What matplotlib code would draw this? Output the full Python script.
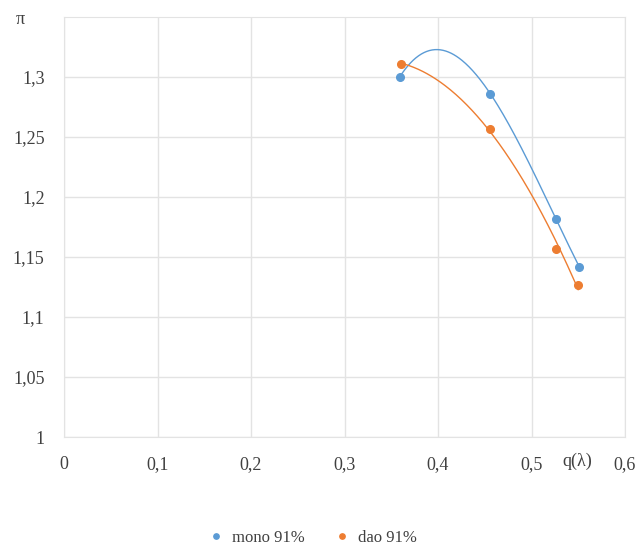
import numpy as np
import matplotlib.pyplot as plt
from matplotlib.ticker import FuncFormatter

# data
mono_x = [0.359, 0.456, 0.526, 0.551]
mono_y = [1.300, 1.286, 1.182, 1.142]
dao_x = [0.360, 0.456, 0.526, 0.550]
dao_y = [1.311, 1.257, 1.157, 1.127]

plt.rcParams['font.family'] = ['Liberation Serif', 'DejaVu Serif']

fig = plt.figure(figsize=(6.42, 5.48), dpi=100)
ax = fig.add_axes([64/642, 1 - 437/548, (625 - 64)/642, (437 - 17)/548])

blue = '#5b9bd5'
orange = '#ed7d31'

# trend lines: cubic for mono, quadratic for dao
for xs, ys, c, deg in [(mono_x, mono_y, blue, 3), (dao_x, dao_y, orange, 2)]:
    p = np.polyfit(xs, ys, deg)
    xx = np.linspace(min(xs), max(xs), 200)
    ax.plot(xx, np.polyval(p, xx), color=c, lw=1, zorder=2)

ax.plot(mono_x, mono_y, 'o', color=blue, ms=5.5, label='mono 91%', zorder=3)
ax.plot(dao_x, dao_y, 'o', color=orange, ms=5.5, label='dao 91%', zorder=3)

ax.set_xlim(0, 0.6)
ax.set_ylim(1, 1.35)
ax.set_xticks(np.arange(0, 0.61, 0.1))
ax.set_yticks(np.arange(1, 1.31, 0.05))
fmt = FuncFormatter(lambda v, pos: ('%g' % round(v, 2)).replace('.', ','))
ax.xaxis.set_major_formatter(fmt)
ax.yaxis.set_major_formatter(fmt)
ax.tick_params(length=0, labelsize=13, colors='#404040')
ax.tick_params(axis='x', pad=14)
ax.tick_params(axis='y', pad=14)
ax.grid(True, color='#e3e3e3', lw=1)
for s in ax.spines.values():
    s.set_color('#e3e3e3')

fig.text(20/642, 1 - 20/548, 'π', fontsize=13, color='#404040', ha='center', va='center')
fig.text(577/642, 1 - 461/548, 'q(λ)', fontsize=13, color='#404040', ha='center', va='center')

fig.legend(loc='center', bbox_to_anchor=(308/642, 1 - 538/548), ncol=2, frameon=False,
           fontsize=12, handletextpad=0.0, columnspacing=1.2, markerscale=0.7,
           labelcolor='#404040')

fig.savefig('out.png')
